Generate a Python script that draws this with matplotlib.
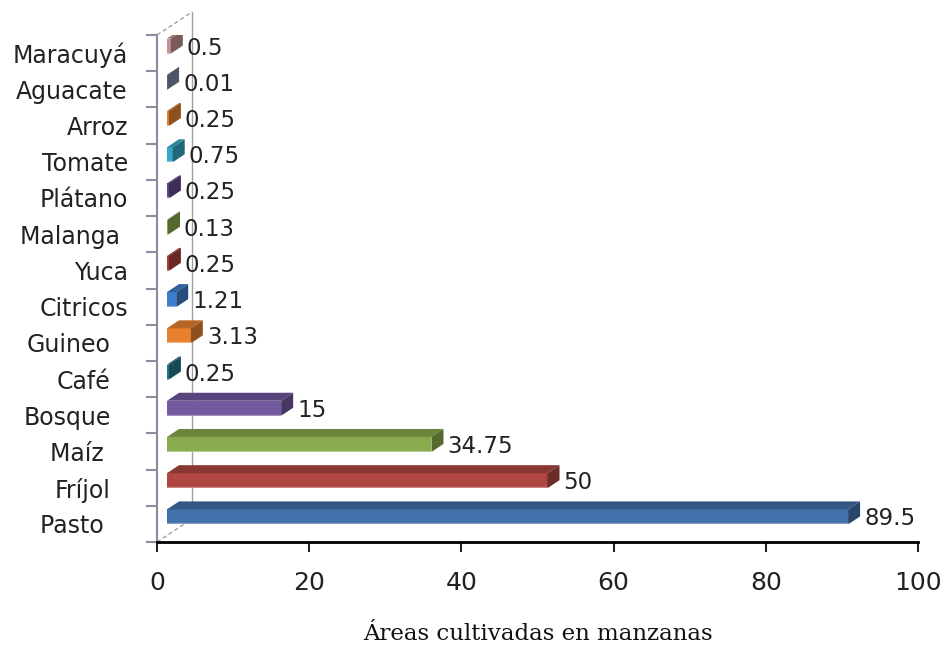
import matplotlib.pyplot as plt
import numpy as np
from matplotlib.patches import Polygon
from matplotlib.colors import to_rgb
from matplotlib.transforms import ScaledTranslation

# Data (bottom to top, as drawn)
categories = ["Pasto ", "Fríjol", "Maíz ", "Bosque", "Café", "Guineo", "Citricos",
              "Yuca", "Malanga ", "Plátano", "Tomate", "Arroz", "Aguacate", "Maracuyá"]
areas = [89.5, 50, 34.75, 15, 0.25, 3.13, 1.21, 0.25, 0.13, 0.25, 0.75, 0.25, 0.01, 0.5]
value_labels = ["89.5", "50", "34.75", "15", "0.25", "3.13", "1.21",
                "0.25", "0.13", "0.25", "0.75", "0.25", "0.01", "0.5"]
colors = ["#4270AA", "#B04642", "#8AAA4E", "#7259A0", "#23798A", "#E8812F", "#3D7CC9",
          "#A8403C", "#84A84D", "#62498C", "#34A8C4", "#E5812F", "#7C8CAA", "#C49292"]
xticks = [0, 20, 40, 60, 80, 100]

W, H, DPI = 9.45, 6.45, 100
fig = plt.figure(figsize=(W, H), dpi=DPI)
ax = fig.add_axes([157 / 945, 103 / 645, 761 / 945, 507 / 645])
ax.set_xlim(0, 100)
ax.set_ylim(-0.5, len(categories) - 0.5)

# pixel -> data unit conversion from the axes geometry
pos = ax.get_position()
sx = pos.width * W * DPI / 100
sy = pos.height * H * DPI / len(categories)

def px(dx, dy):
    return dx / sx, dy / sy

# 3D look: front face offset, bar thickness, depth of top/side faces
ox, oy = px(10, 7)
_, bh = px(0, 15)
ddx, ddy = px(12, 8)

def shade(c, f):
    return tuple(np.clip(np.array(to_rgb(c)) * f, 0, 1))

y = np.arange(len(categories))
ax.barh(y + oy, areas, height=bh, left=ox, color=colors, zorder=3, linewidth=0)

for i, v in enumerate(areas):
    x0, x1 = ox, ox + v
    y0, y1 = i + oy - bh / 2, i + oy + bh / 2
    top = Polygon([(x0, y1), (x1, y1), (x1 + ddx, y1 + ddy), (x0 + ddx, y1 + ddy)],
                  closed=True, facecolor=shade(colors[i], 0.78), edgecolor="none", zorder=3)
    side = Polygon([(x1, y0), (x1 + ddx, y0 + ddy), (x1 + ddx, y1 + ddy), (x1, y1)],
                   closed=True, facecolor=shade(colors[i], 0.62), edgecolor="none", zorder=3)
    ax.add_patch(top)
    ax.add_patch(side)
    # light bottom edge of the front face
    ax.plot([x0, x1], [y0 + 1 / sy, y0 + 1 / sy], color="white", alpha=0.35, lw=1, zorder=4)
    lx, ly = px(4, -2)
    ax.text(x1 + ddx + lx, i + oy + ly, value_labels[i], fontsize=16.5, color="#222222",
            va="center", ha="left", zorder=5)

# back wall and floor edges
wx, wy = px(35, 23)
ax.plot([wx, wx], [-0.5 + wy, len(categories) - 0.5 + wy], color="#a0a0a0", lw=1,
        zorder=1, clip_on=False)
ax.plot([0, wx], [len(categories) - 0.5, len(categories) - 0.5 + wy], color="#a0a0a0",
        lw=1, ls=(0, (3, 2)), zorder=1, clip_on=False)
ax.plot([0, wx], [-0.5, -0.5 + wy], color="#a0a0a0", lw=1, ls=(0, (3, 2)),
        zorder=1, clip_on=False)

# axes styling
for s in ["top", "right"]:
    ax.spines[s].set_visible(False)
ax.spines["left"].set_color("#8a8aa0")
ax.spines["left"].set_linewidth(1.5)
ax.spines["bottom"].set_color("black")
ax.spines["bottom"].set_linewidth(2)

ax.set_xticks(xticks)
ax.tick_params(axis="x", length=7, width=1.5, direction="out", pad=14, labelsize=18,
               colors="#222222")
ax.set_yticks(y)
ax.set_yticklabels(categories, fontsize=17, color="#222222")
ax.tick_params(axis="y", which="major", length=0, pad=21)
ax.set_yticks(np.arange(-0.5, len(categories), 1), minor=True)
ax.tick_params(axis="y", which="minor", length=8, width=1.5, color="#8a8aa0")

# lower labels sit further left
for lab in ax.get_yticklabels()[:6]:
    lab.set_transform(lab.get_transform() + ScaledTranslation(-17 / DPI, 0, fig.dpi_scale_trans))

ax.set_xlabel("Áreas cultivadas en manzanas", family="DejaVu Serif", fontsize=16.5,
              labelpad=20, color="#111111")

fig.savefig("out.png", dpi=DPI)
